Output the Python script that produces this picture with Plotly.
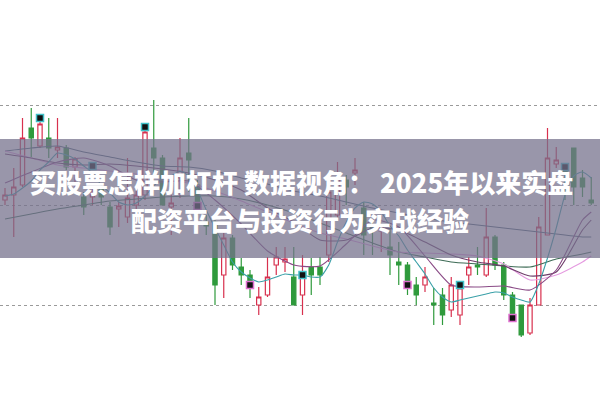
import plotly.graph_objects as go

# ---- candle data (index, OHLC) ----
opens  = [11.05,11.10,11.20,11.77,11.59,11.67,11.55,11.57,11.38,11.08,
          11.08,11.17,10.98,10.96,10.88,11.00,11.10,11.57,11.47,10.98,
          11.27,11.52,11.20,10.83,10.83,10.30,10.67,10.38,10.30,10.00,
          10.10,10.40,10.43,10.28,10.10,10.38,10.38,10.50,10.90,11.25,
          11.32,10.97,10.79,10.74,10.58,10.43,10.40,10.20,10.20,10.02,
          10.10, 9.95, 9.90,10.30,10.40,10.30,10.68,10.40,10.10,10.00,
           9.72,10.00,10.70,11.41,11.38,11.57,11.27,11.05]
highs  = [11.17,11.37,11.87,11.97,11.83,11.87,11.87,11.60,11.48,11.13,
          11.18,11.18,11.03,11.03,11.47,11.15,11.75,12.05,11.50,11.10,
          11.67,11.87,11.25,10.90,10.85,10.72,10.70,10.47,10.35,10.18,
          10.48,10.58,10.58,10.58,10.50,10.47,10.48,11.23,11.43,11.30,
          11.47,11.03,10.83,10.80,10.77,10.63,10.43,10.28,10.38,10.17,
          10.17,10.28,10.23,10.48,10.58,10.97,10.70,10.43,10.13,10.00,
          10.07,10.88,11.77,11.58,11.42,11.57,11.35,11.28]
lows   = [11.00,10.68,11.18,11.48,11.57,11.47,11.47,11.35,11.13,10.90,
          11.00,11.00,10.70,10.78,10.82,10.93,11.05,11.30,11.00,10.70,
          11.07,11.13,10.90,10.70,10.00,10.07,10.35,10.20,10.07, 9.90,
          10.08,10.30,10.33,10.00, 9.90,10.10,10.20,10.43,10.87,11.00,
          11.20,10.50,10.50,10.53,10.30,10.20,10.10,10.00,10.13, 9.80,
           9.80, 9.88, 9.80,10.20,10.30,10.28,10.35,10.05, 9.85, 9.68,
           9.70,10.00,10.70,11.37,11.05,11.00,11.08,11.00]
closes = [11.10,11.18,11.67,11.67,11.81,11.57,11.58,11.38,11.46,10.98,
          11.13,11.08,10.78,10.99,11.07,11.10,11.73,11.47,11.00,11.02,
          11.47,11.45,11.00,10.79,10.20,10.67,10.40,10.30,10.23,10.08,
          10.28,10.48,10.46,10.00,10.28,10.30,10.30,11.13,11.27,11.18,
          11.35,10.70,10.75,10.77,10.50,10.40,10.20,10.10,10.28,10.00,
           9.90,10.20,10.17,10.38,10.38,10.68,10.40,10.10, 9.90, 9.70,
          10.00,10.78,11.47,11.45,11.33,11.18,11.18,11.02]
days = list(range(len(opens)))

# ---- moving average lines ----
ma5 = [11.09,11.11,11.17,11.24,11.35,11.43,11.52,11.50,11.46,11.39,
       11.32,11.20,11.12,11.03,11.00,11.02,11.09,11.19,11.27,11.29,
       11.34,11.29,11.15,10.95,10.77,10.60,10.43,10.33,10.27,10.23,
       10.25,10.28,10.31,10.30,10.30,10.28,10.28,10.40,10.63,10.83,
       10.97,11.03,11.01,10.93,10.79,10.69,10.55,10.43,10.31,10.17,
       10.08,10.03,10.05,10.07,10.09,10.11,10.13,10.12,10.08,10.05,
       10.03,10.21,10.47,10.77,11.10,11.29,11.33,11.27]
ma_days = [0,3,6,9,12,15,18,21,24,27,30,33,36,39,42,45,48,51,54,57,60,63,66,67]
ma10 = [11.22,11.33,11.43,11.47,11.39,11.25,11.23,11.24,11.05,10.81,10.54,10.40,
        10.39,10.61,10.85,10.78,10.49,10.20,10.18,10.19,10.15,10.35,10.85,10.93]
ma20 = [11.51,11.47,11.42,11.40,11.41,11.39,11.36,11.32,11.25,11.15,10.97,10.83,
        10.65,10.65,10.77,10.75,10.63,10.50,10.43,10.39,10.29,10.33,10.75,10.85]
ma30 = [11.54,11.47,11.40,11.37,11.34,11.31,11.25,11.22,11.14,11.04,10.93,10.82,
        10.72,10.66,10.59,10.53,10.52,10.51,10.49,10.41,10.25,10.30,10.43,10.49]
ma60 = [11.54,11.57,11.59,11.53,11.48,11.43,11.39,11.38,11.34,11.27,11.21,11.14,
        11.09,11.03,10.97,10.92,10.87,10.83,10.80,10.77,10.74,10.71,10.68,10.68]
ma120 = [10.86,10.91,10.96,11.00,11.04,11.06,11.08,11.09,11.09,11.06,11.00,10.92,
         10.82,10.72,10.62,10.53,10.48,10.43,10.41,10.39,10.38,10.46,10.51,10.53]

# ---- signal markers ----
sig_days  = [4, 10, 16, 22, 28, 34, 46, 52, 58, 64]
sig_vals  = [11.87, 11.39, 11.78, 10.99, 10.20, 10.30, 10.20, 10.20, 9.87, 11.38]
sig_kind  = ["c", "c", "c", "p", "p", "c", "p", "c", "p", "c"]

title_line1 = "买股票怎样加杠杆 数据视角： 2025年以来实盘"
title_line2 = "配资平台与投资行为实战经验"

fig = go.Figure()

line_specs = [
    (ma_days, ma120, "#3d6b55"),
    (ma_days, ma60, "#4e6478"),
    (ma_days, ma30, "#e59be0"),
    (ma_days, ma20, "#6e3c6a"),
    (ma_days, ma10, "#8a4a86"),
    (days, ma5, "#3aa0a8"),
]
for xs, ys, col in line_specs:
    fig.add_trace(go.Scatter(x=xs, y=ys, mode="lines",
                             line=dict(color=col, width=1.1, shape="spline", smoothing=0.6),
                             hoverinfo="skip", showlegend=False))

fig.add_trace(go.Candlestick(
    x=days, open=opens, high=highs, low=lows, close=closes,
    increasing=dict(line=dict(color="#d8304e", width=1.2), fillcolor="#ffffff"),
    decreasing=dict(line=dict(color="#2f9a3c", width=1.2), fillcolor="#2f9a3c"),
    whiskerwidth=0, showlegend=False))

fig.add_trace(go.Scatter(
    x=sig_days, y=sig_vals, mode="markers",
    marker=dict(symbol="square", size=7, color="#111111",
                line=dict(color=["#40c0c8" if k == "c" else "#e070d0" for k in sig_kind], width=1.5)),
    hoverinfo="skip", showlegend=False))

fig.add_shape(type="rect", xref="paper", yref="paper", x0=0, x1=1, y0=0.3534, y1=0.6516,
              fillcolor="rgba(118,113,140,0.74)", line=dict(width=0), layer="above")

fig.add_annotation(text=title_line1, xref="paper", yref="paper",
                   x=0.502, y=0.544, showarrow=False,
                   font=dict(family="Noto Sans CJK SC", size=26, color="white", weight=900))
fig.add_annotation(text=title_line2, xref="paper", yref="paper",
                   x=0.5, y=0.449, showarrow=False,
                   font=dict(family="Noto Sans CJK SC", size=26, color="white", weight=900))

fig.update_layout(
    width=600, height=399, margin=dict(l=0, r=0, t=0, b=0),
    paper_bgcolor="white", plot_bgcolor="white", showlegend=False,
    xaxis=dict(range=[-0.571, 68.0], visible=False, rangeslider=dict(visible=False)),
    yaxis=dict(range=[9.06, 13.05], tickvals=[10, 11, 12], showticklabels=False,
               showgrid=True, gridcolor="#9a9a9a", griddash="dot", gridwidth=1,
               zeroline=False, showline=False),
)

fig.write_html("out.html")
